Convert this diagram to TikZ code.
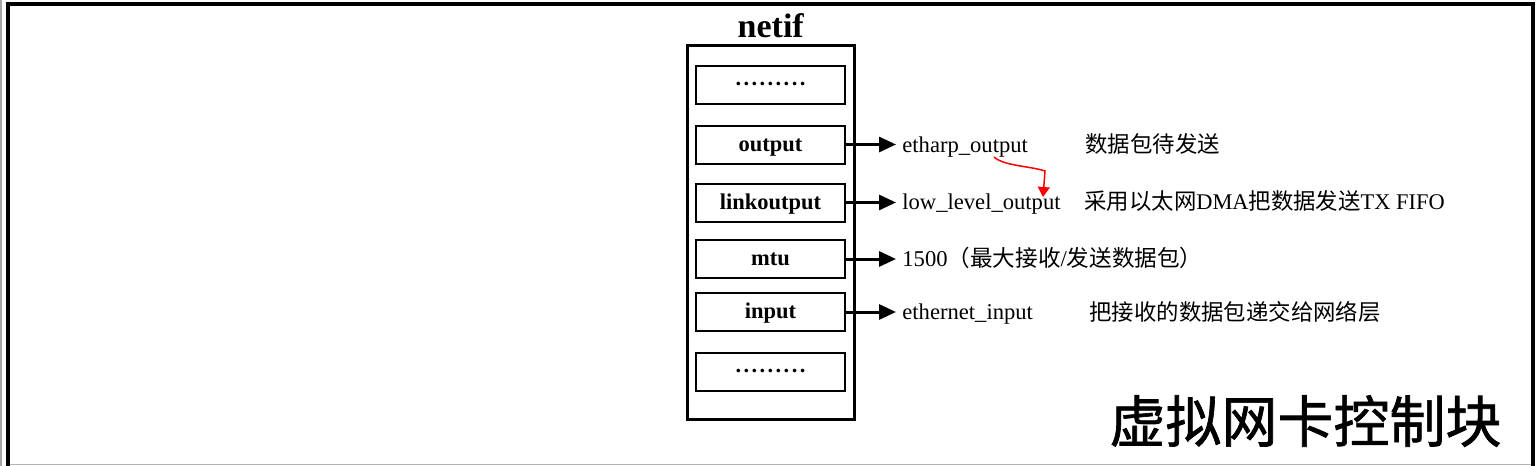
\documentclass[tikz,border=0pt]{standalone}
\usepackage{fontspec}
\setmainfont{Liberation Serif}
\newfontfamily\cjk{Noto Sans CJK SC}
\newfontfamily\cjkbig{Noto Sans CJK SC}[FakeBold=1.2]
\usetikzlibrary{arrows.meta}
\newcommand\ninedots{.\kern1.2pt.\kern1.2pt.\kern1.2pt.\kern1.2pt.\kern1.2pt.\kern1.2pt.\kern1.2pt.\kern1.2pt.}
\begin{document}
\begin{tikzpicture}[x=0.5pt,y=-0.5pt,
  field/.style={draw,line width=1pt,minimum width=74.5pt,minimum height=19pt,inner sep=0pt,
    font=\fontsize{11.25}{13}\selectfont\bfseries,text height=0.68em,text depth=0pt},
  txt/.style={anchor=base west,inner xsep=3pt,inner ysep=0pt,font=\fontsize{11.3}{13}\selectfont},
  desc/.style={anchor=base west,inner sep=0pt,font=\fontsize{11.2}{13}\selectfont},
  arr/.style={line width=1.5pt,-{Triangle[length=8.5pt,width=7.5pt]}},
  redarr/.style={red,line width=0.75pt,-{Triangle[length=5pt,width=6pt]}}]
\useasboundingbox (0,0) rectangle (1538,466);
% outer frame
\draw[gray!70,line width=1pt] (1,0) -- (1,466);
\draw[gray!60,line width=0.75pt] (9,464.5) -- (1531,464.5);
\draw[line width=2pt] (7.5,466) -- (7.5,4) -- (1532.5,4) -- (1532.5,466);
% netif block
\node[font=\fontsize{17}{20}\selectfont\bfseries,anchor=base,inner sep=0pt] (title) at (770.75,38) {netif};
\draw[line width=1.5pt] (687.5,45) rectangle (854,419);
\node[field] (b1) at (770.5,85) {\raisebox{0.27em}{\ninedots}};
\node[field] (b2) at (770.5,144.5) {output};
\node[field] (b3) at (770.5,202.5) {linkoutput};
\node[field] (b4) at (770.5,259) {mtu};
\node[field] (b5) at (770.5,312) {input};
\node[field] (b6) at (770.5,372) {\raisebox{0.27em}{\ninedots}};
% targets
\node[txt] (t1) at (896,152) {etharp\_output};
\node[txt] (t2) at (896,209) {low\_level\_output};
\node[txt] (t3) at (896,266) {1500{\cjk（最大接收}/{\cjk 发送数据包）}};
\node[txt] (t4) at (896,319) {ethernet\_input};
\draw[arr] (b2.east) -- (b2.east -| t1.west);
\draw[arr] (b3.east) -- (b3.east -| t2.west);
\draw[arr] (b4.east) -- (b4.east -| t3.west);
\draw[arr] (b5.east) -- (b5.east -| t4.west);
% descriptions
\node[desc] (d1) at (1085,152) {\cjk 数据包待发送};
\node[desc] (d2) at (1084,209) {{\cjk 采用以太网}DMA{\cjk 把数据发送}TX FIFO};
\node[desc] (d3) at (1089,320) {\cjk 把接收的数据包递交给网络层};
% red arrow
\coordinate (rs) at (994,157);
\coordinate (rm) at (1045,171);
\coordinate (re) at (1043,197);
\draw[redarr] (rs) .. controls (1004,166) and (1030,166) .. (rm) -- (re);
% big title
\node[font=\cjkbig\fontsize{28}{32}\selectfont,inner sep=0pt] (big) at (1305.5,421) {虚拟网卡控制块};
\end{tikzpicture}
\end{document}
